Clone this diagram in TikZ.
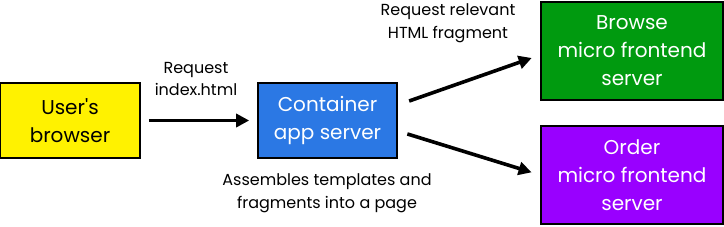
\documentclass[tikz,border=0pt]{standalone}
\usepackage{fontspec}
\setmainfont{Poppins}
\usetikzlibrary{arrows.meta,positioning}

\begin{document}
\begin{tikzpicture}[
  x=1pt, y=-1pt,
  font=\fontsize{20}{28}\selectfont,
  box/.style={
    draw=black, line width=1.6pt, align=center,
    inner sep=2pt
  },
  client/.style ={box, fill=yellow,         text=black, minimum width=140pt, minimum height=75pt},
  shell/.style  ={box, fill=appblue,        text=white, minimum width=139pt, minimum height=75pt},
  browsemf/.style={box, fill=mfgreen,       text=white, minimum width=182pt, minimum height=98pt},
  ordermf/.style={box, fill=mfpurple,       text=white, minimum width=182pt, minimum height=98pt},
  flow/.style   ={-{Triangle[length=13pt,width=13pt]}, line width=3.6pt, draw=black},
  lbl/.style    ={font=\fontsize{16}{22.5}\selectfont, align=center, inner sep=0pt}
]
\definecolor{appblue}{HTML}{2B78E4}
\definecolor{mfgreen}{HTML}{009A0F}
\definecolor{mfpurple}{HTML}{9900FF}

\useasboundingbox (0,0) rectangle (724,226);

% =================== BOXES ===================
\node[client]   (browser)   at ( 70,  120.5) {User\textquotesingle s\\browser};
\node[shell]    (container) at (327.5,120.5) {Container\\app server};
\node[browsemf] (browse)    at (632,   51)   {Browse\\micro frontend\\server};
\node[ordermf]  (order)     at (632,  175)   {Order\\micro frontend\\server};

% =================== LABELS ===================
\node[lbl] (reqindex) at (196,  79) {Request\\index.html};
\node[lbl] (reqfrag)  at (448,  23) {Request relevant\\HTML fragment};
\node[lbl] (assemble) at (327, 193) {Assembles templates and\\fragments into a page};

% =================== ARROWS ===================
\draw[flow, shorten <=8pt, shorten >=8pt] (browser.east) -- (container.west);
\draw[flow, shorten <=12pt, shorten >=9pt] ([yshift=15.5pt]container.east) -- ([yshift=-4pt]browse.west);
\draw[flow, shorten <=10pt, shorten >=9pt] ([yshift=-10.5pt]container.east) -- (order.west);

\end{tikzpicture}
\end{document}
